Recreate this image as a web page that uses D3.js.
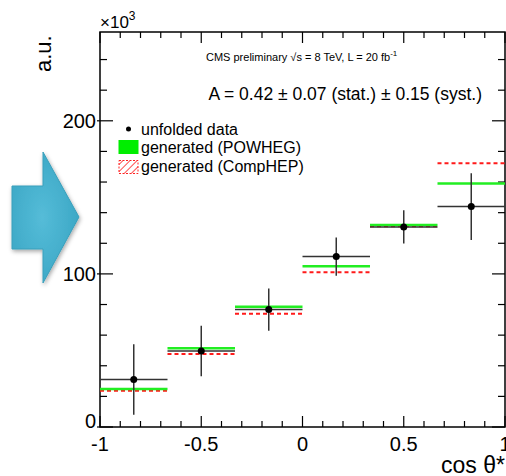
<!DOCTYPE html>
<html>
<head>
<meta charset="utf-8">
<script src="https://cdn.jsdelivr.net/npm/d3@7"></script>
<style>
  body { margin: 0; background: #fff; overflow: hidden; }
  svg { display: block; font-family: "Liberation Sans", Arial, Helvetica, sans-serif; }
</style>
</head>
<body>
<div id="container"></div>
<script>
// bins in cos theta*
var binEdges = [-1, -2 / 3, -1 / 3, 0, 1 / 3, 2 / 3, 1];
// unfolded data (x10^3) and its error bars
var dataValues = [31.0, 49.7, 76.7, 111.3, 130.7, 144.0];
var dataErrors = [23.0, 16.5, 13.8, 12.5, 10.8, 21.8];
// generated predictions
var powhegValues = [24.8, 51.4, 78.6, 105.0, 132.0, 159.0];
var comphepValues = [23.7, 47.7, 73.9, 101.1, 131.2, 172.3];

var xTicks = [-1, -0.5, 0, 0.5, 1];
var xTickLabels = ["-1", "-0.5", "0", "0.5", "1"];
var yTicks = [0, 100, 200];

var width = 506, height = 476;
var margin = {top: 32, right: 1, bottom: 49, left: 100};

var svg = d3.select("#container").append("svg")
  .attr("width", width)
  .attr("height", height);

var x = d3.scaleLinear().domain([-1, 1]).range([margin.left, width - margin.right]);
var y = d3.scaleLinear().domain([0, 258]).range([height - margin.bottom, margin.top]);

var defs = svg.append("defs");

// hatch for CompHEP legend box
var hatch = defs.append("pattern")
  .attr("id", "hatch")
  .attr("patternUnits", "userSpaceOnUse")
  .attr("width", 5).attr("height", 5)
  .attr("patternTransform", "rotate(45)");
hatch.append("line")
  .attr("x1", 0).attr("y1", 0).attr("x2", 0).attr("y2", 5)
  .attr("stroke", "#ff2020").attr("stroke-width", 1.6);

/* ------- BLUE ARROW -------*/
var grad = defs.append("radialGradient").attr("id", "arrowGrad")
  .attr("cx", "45%").attr("cy", "50%").attr("r", "60%");
grad.append("stop").attr("offset", "0%").attr("stop-color", "#55bcd8");
grad.append("stop").attr("offset", "100%").attr("stop-color", "#3aa6c4");

var shadow = defs.append("filter").attr("id", "shadow")
  .attr("x", "-20%").attr("y", "-20%").attr("width", "150%").attr("height", "150%");
shadow.append("feDropShadow")
  .attr("dx", 1).attr("dy", 2).attr("stdDeviation", 2)
  .attr("flood-color", "#000").attr("flood-opacity", 0.35);

svg.append("path")
  .attr("d", "M12,186 L43,186 L43,152 L79,217 L43,283 L43,249 L12,249 Z")
  .attr("fill", "url(#arrowGrad)")
  .attr("stroke", "#3a9fbb")
  .attr("stroke-width", 1)
  .attr("filter", "url(#shadow)");

/* ------- FRAME & TICKS -------*/
var g = svg.append("g");
var x0 = x(-1), x1 = x(1), y0 = y(0), y1 = y.range()[1];

g.append("rect")
  .attr("x", x0).attr("y", y1)
  .attr("width", x1 - x0).attr("height", y0 - y1)
  .attr("fill", "none").attr("stroke", "#000").attr("stroke-width", 1.5);

var xMinor = d3.range(-10, 11).map(function(i) { return i / 10; });
xMinor.forEach(function(v) {
  var major = Math.abs(v * 2 - Math.round(v * 2)) < 1e-9;
  var len = major ? 11 : 6;
  g.append("line").attr("x1", x(v)).attr("x2", x(v)).attr("y1", y0).attr("y2", y0 - len)
    .attr("stroke", "#000").attr("stroke-width", 1.2);
  g.append("line").attr("x1", x(v)).attr("x2", x(v)).attr("y1", y1).attr("y2", y1 + len)
    .attr("stroke", "#000").attr("stroke-width", 1.2);
});

var yMinor = d3.range(0, 260, 20);
yMinor.forEach(function(v) {
  var major = v % 100 === 0;
  var len = major ? 13 : 7;
  g.append("line").attr("x1", x0 - (major ? 3 : 0)).attr("x2", x0 + len).attr("y1", y(v)).attr("y2", y(v))
    .attr("stroke", "#000").attr("stroke-width", 1.2);
  g.append("line").attr("x1", x1).attr("x2", x1 - len).attr("y1", y(v)).attr("y2", y(v))
    .attr("stroke", "#000").attr("stroke-width", 1.2);
});

g.selectAll("text.xtick").data(xTicks).enter().append("text")
  .attr("class", "xtick")
  .attr("x", function(d) { return x(d); })
  .attr("y", 451)
  .attr("text-anchor", "middle")
  .attr("font-size", 20)
  .text(function(d, i) { return xTickLabels[i]; });

// the zero label sits a little higher so it clears the "-1" below it
g.selectAll("text.ytick").data(yTicks).enter().append("text")
  .attr("class", "ytick")
  .attr("x", 96)
  .attr("y", function(d) { return y(d) + (d === 0 ? 1 : 7); })
  .attr("text-anchor", "end")
  .attr("font-size", 20)
  .text(function(d) { return d; });

// axis titles
svg.append("text")
  .attr("x", 505).attr("y", 473)
  .attr("text-anchor", "end")
  .attr("font-size", 23)
  .text("cos θ*");

svg.append("text")
  .attr("transform", "translate(51,72) rotate(-90)")
  .attr("font-size", 22)
  .text("a.u.");

var mult = svg.append("text").attr("x", 100).attr("y", 28).attr("font-size", 17);
mult.append("tspan").text("×10");
mult.append("tspan").attr("dy", -8).attr("font-size", 12).text("3");

/* ------- HISTOGRAMS -------*/
var bins = dataValues.map(function(v, i) {
  return {lo: binEdges[i], hi: binEdges[i + 1], val: v, err: dataErrors[i],
          powheg: powhegValues[i], comphep: comphepValues[i]};
});

var plot = svg.append("g");

plot.selectAll("line.comphep").data(bins).enter().append("line")
  .attr("class", "comphep")
  .attr("x1", function(d) { return x(d.lo); })
  .attr("x2", function(d) { return x(d.hi); })
  .attr("y1", function(d) { return y(d.comphep); })
  .attr("y2", function(d) { return y(d.comphep); })
  .attr("stroke", "#ff1a1a").attr("stroke-width", 2)
  .attr("stroke-dasharray", "4,3");

plot.selectAll("line.powheg").data(bins).enter().append("line")
  .attr("class", "powheg")
  .attr("x1", function(d) { return x(d.lo); })
  .attr("x2", function(d) { return x(d.hi); })
  .attr("y1", function(d) { return y(d.powheg); })
  .attr("y2", function(d) { return y(d.powheg); })
  .attr("stroke", "#22ee22").attr("stroke-width", 2.5);

plot.selectAll("line.xerr").data(bins).enter().append("line")
  .attr("class", "xerr")
  .attr("x1", function(d) { return x(d.lo); })
  .attr("x2", function(d) { return x(d.hi); })
  .attr("y1", function(d) { return y(d.val); })
  .attr("y2", function(d) { return y(d.val); })
  .attr("stroke", "#333").attr("stroke-width", 1.5);

plot.selectAll("line.yerr").data(bins).enter().append("line")
  .attr("class", "yerr")
  .attr("x1", function(d) { return x((d.lo + d.hi) / 2); })
  .attr("x2", function(d) { return x((d.lo + d.hi) / 2); })
  .attr("y1", function(d) { return y(d.val - d.err); })
  .attr("y2", function(d) { return y(d.val + d.err); })
  .attr("stroke", "#333").attr("stroke-width", 1.5);

plot.selectAll("circle.pt").data(bins).enter().append("circle")
  .attr("class", "pt")
  .attr("cx", function(d) { return x((d.lo + d.hi) / 2); })
  .attr("cy", function(d) { return y(d.val); })
  .attr("r", 3.5)
  .attr("fill", "#000");

/* ------- LABELS & LEGEND -------*/
var cms = svg.append("text").attr("x", 206).attr("y", 61).attr("font-size", 11);
cms.append("tspan").text("CMS preliminary √s = 8 TeV, L = 20 fb");
cms.append("tspan").attr("dy", -5).attr("font-size", 8).text("-1");

svg.append("text")
  .attr("x", 482).attr("y", 100)
  .attr("text-anchor", "end")
  .attr("font-size", 17.5)
  .text("A = 0.42 ± 0.07 (stat.) ± 0.15 (syst.)");

var legend = svg.append("g").attr("font-size", 16);
legend.append("circle").attr("cx", 128.5).attr("cy", 129).attr("r", 2.5).attr("fill", "#000");
legend.append("text").attr("x", 141).attr("y", 135).text("unfolded data");
legend.append("rect").attr("x", 118.5).attr("y", 140).attr("width", 20).attr("height", 14).attr("fill", "#00ee00");
legend.append("text").attr("x", 141).attr("y", 153).text("generated (POWHEG)");
legend.append("rect").attr("x", 119).attr("y", 160.5).attr("width", 19).attr("height", 13)
  .attr("fill", "url(#hatch)").attr("stroke", "#ff2020").attr("stroke-width", 1).attr("stroke-dasharray", "2,1.5");
legend.append("text").attr("x", 141).attr("y", 172).text("generated (CompHEP)");
</script>
</body>
</html>
